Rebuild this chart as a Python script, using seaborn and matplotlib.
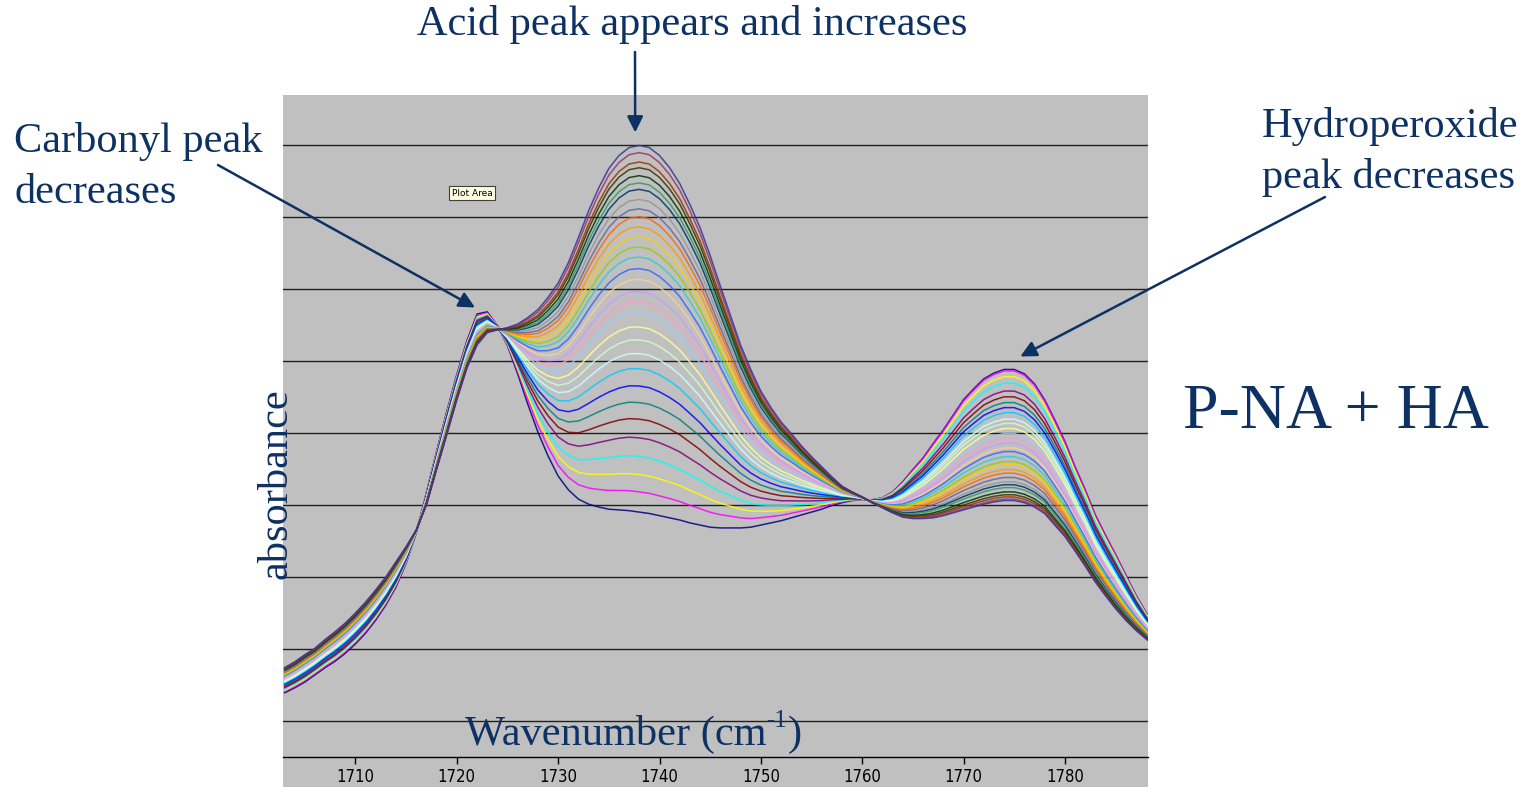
import numpy as np
import pandas as pd
import matplotlib
matplotlib.use("Agg")
import matplotlib.pyplot as plt
import matplotlib.transforms as mtransforms
from matplotlib.patches import Rectangle
from matplotlib import font_manager
import seaborn as sns

# ---------------- data ----------------
wavenumber = np.arange(1703, 1790)  # cm-1, 1 cm-1 steps

# first spectrum of the series (lowest acid peak, highest hydroperoxide peak)
first_spectrum = [
    0.139, 0.146, 0.154, 0.164, 0.174, 0.183, 0.194, 0.207, 0.222, 0.240,
    0.261, 0.286, 0.319, 0.361, 0.417, 0.474, 0.529, 0.581, 0.628, 0.665,
    0.668, 0.649, 0.621, 0.582, 0.540, 0.501, 0.468, 0.440, 0.421, 0.408,
    0.401, 0.397, 0.394, 0.393, 0.392, 0.390, 0.388, 0.385, 0.382, 0.379,
    0.375, 0.372, 0.369, 0.368, 0.368, 0.368, 0.369, 0.372, 0.375, 0.378,
    0.382, 0.386, 0.390, 0.394, 0.399, 0.403, 0.406, 0.407, 0.407, 0.410,
    0.418, 0.432, 0.449, 0.465, 0.485, 0.504, 0.525, 0.546, 0.561, 0.575,
    0.583, 0.588, 0.588, 0.582, 0.568, 0.546, 0.518, 0.488, 0.453, 0.421,
    0.386, 0.358, 0.331, 0.303, 0.275, 0.251, 0.231,
]

# last spectrum of the series (highest acid peak, lowest hydroperoxide peak)
last_spectrum = [
    0.174, 0.182, 0.192, 0.201, 0.213, 0.224, 0.236, 0.250, 0.265, 0.282,
    0.300, 0.321, 0.342, 0.365, 0.400, 0.449, 0.497, 0.546, 0.590, 0.622,
    0.639, 0.643, 0.646, 0.651, 0.660, 0.671, 0.688, 0.708, 0.736, 0.771,
    0.808, 0.840, 0.867, 0.885, 0.896, 0.899, 0.896, 0.885, 0.868, 0.846,
    0.817, 0.785, 0.746, 0.704, 0.663, 0.622, 0.588, 0.558, 0.535, 0.515,
    0.499, 0.482, 0.467, 0.453, 0.439, 0.426, 0.418, 0.411, 0.403, 0.396,
    0.389, 0.383, 0.381, 0.381, 0.382, 0.385, 0.389, 0.393, 0.397, 0.401,
    0.404, 0.406, 0.406, 0.403, 0.397, 0.388, 0.372, 0.356, 0.336, 0.315,
    0.293, 0.274, 0.256, 0.240, 0.226, 0.214, 0.203,
]

# absorbance of every spectrum at the acid peak (1738 cm-1)
acid_peak_1738 = [
    0.390, 0.418, 0.442, 0.467, 0.493, 0.519, 0.542, 0.565, 0.589, 0.610,
    0.629, 0.647, 0.667, 0.682, 0.696, 0.713, 0.728, 0.744, 0.758, 0.772,
    0.786, 0.800, 0.811, 0.824, 0.838, 0.847, 0.857, 0.868, 0.876, 0.889,
    0.899,
]

# absorbance of every spectrum at the hydroperoxide peak (1775 cm-1)
hydroperoxide_peak_1775 = [
    0.588, 0.586, 0.578, 0.569, 0.558, 0.550, 0.542, 0.535, 0.528, 0.519,
    0.513, 0.506, 0.499, 0.493, 0.486, 0.479, 0.474, 0.467, 0.460, 0.456,
    0.449, 0.444, 0.438, 0.432, 0.428, 0.424, 0.418, 0.414, 0.411, 0.408,
    0.406,
]

series_colors = [
    "#000080", "#FF00FF", "#FFFF00", "#00FFFF", "#800080", "#800000",
    "#008080", "#0000FF", "#00CCFF", "#CCFFFF", "#CCFFCC", "#FFFF99",
    "#99CCFF", "#FF99CC", "#CC99FF", "#FFCC99", "#3366FF", "#33CCCC",
    "#99CC00", "#FFCC00", "#FF9900", "#FF6600", "#666699", "#969696",
    "#003366", "#339966", "#003300", "#333300", "#993300", "#993366",
    "#333399",
]

x_ticks = [1710, 1720, 1730, 1740, 1750, 1760, 1770, 1780]
isosbestic_split = 1760.5

# --------------- build long table ---------------
first = np.array(first_spectrum)
last = np.array(last_spectrum)
acid = np.array(acid_peak_1738)
hyd = np.array(hydroperoxide_peak_1775)
frames = []
for k in range(len(acid)):
    fa = (acid[k] - acid[0]) / (acid[-1] - acid[0])
    fh = (hyd[k] - hyd[0]) / (hyd[-1] - hyd[0])
    weight = np.where(wavenumber <= isosbestic_split, fa, fh)
    frames.append(pd.DataFrame({
        "wavenumber": wavenumber,
        "absorbance": first + weight * (last - first),
        "spectrum": f"s{k + 1:02d}",
    }))
df = pd.concat(frames, ignore_index=True)
order = [f"s{k + 1:02d}" for k in range(len(acid))]

# --------------- figure ---------------
sns.set_theme(style="white")
plt.rcParams["font.family"] = ["Liberation Serif", "DejaVu Serif"]
plt.rcParams["mathtext.fontset"] = "custom"
plt.rcParams["mathtext.rm"] = "Liberation Serif"
plt.rcParams["mathtext.default"] = "rm"

# condensed sans for the tick labels (Arial Narrow look)
names = {f.name for f in font_manager.fontManager.ttflist}
if "Liberation Sans Narrow" in names:
    tick_font = dict(family="Liberation Sans Narrow")
else:
    tick_font = dict(family="DejaVu Sans", stretch="condensed")

W, H = 1537, 787
fig = plt.figure(figsize=(W / 100, H / 100), dpi=100)
fig.patch.set_facecolor("white")

L, R, T, B = 283, 1148, 95, 757
ax = fig.add_axes([L / W, 1 - B / H, (R - L) / W, (B - T) / H])
ax.set_facecolor("#C0C0C0")

gray_rect = Rectangle((L / W, 0), (R - L) / W, 1 - T / H, transform=fig.transFigure,
                      facecolor="#C0C0C0", edgecolor="none", zorder=-1)
fig.patches.append(gray_rect)

sns.lineplot(data=df, x="wavenumber", y="absorbance", hue="spectrum",
             hue_order=order, palette=series_colors, estimator=None, sort=False,
             legend=False, linewidth=1.1, alpha=0.85, ax=ax)

ax.set_xlim(1702.85, 1788.2)
ax.set_ylim(0.05, 0.969)
ax.set_yticks(np.arange(0.1, 0.91, 0.1))
ax.tick_params(axis="y", left=False, labelleft=False)
ax.yaxis.grid(True, color="#202020", linewidth=1.0)
ax.xaxis.grid(False)
ax.set_axisbelow(True)
for s in ["top", "right", "left"]:
    ax.spines[s].set_visible(False)
ax.spines["bottom"].set_color("black")
ax.spines["bottom"].set_linewidth(1.0)
ax.set_xticks(x_ticks)
ax.tick_params(axis="x", bottom=True, direction="out", length=5, width=1,
               color="black", labelsize=12, pad=3, labelcolor="black")
for lbl in ax.get_xticklabels():
    lbl.set_fontfamily(tick_font["family"])
    if "stretch" in tick_font:
        lbl.set_fontstretch(tick_font["stretch"])
ax.set_xlabel("")
ax.set_ylabel("")

# clipped partial tick label at the right edge
off = mtransforms.offset_copy(ax.get_xaxis_transform(), fig=fig, y=-8, units="points")
t90 = ax.text(1790, 0, "1790", transform=off, ha="center", va="top",
              fontsize=12, color="black", **tick_font)
t90.set_clip_on(True)
t90.set_clip_path(gray_rect)

navy = "#0E3163"
fs = 30.5

fig.text(692 / W, 1 - 35 / H, "Acid peak appears and increases", ha="center",
         va="baseline", fontsize=fs, color=navy)
fig.text(14 / W, 1 - 152 / H, "Carbonyl peak", ha="left", va="baseline",
         fontsize=fs, color=navy)
fig.text(14 / W, 1 - 203 / H, "decreases", ha="left", va="baseline",
         fontsize=fs, color=navy)
fig.text(1262 / W, 1 - 137 / H, "Hydroperoxide", ha="left", va="baseline",
         fontsize=fs, color=navy)
fig.text(1262 / W, 1 - 188 / H, "peak decreases", ha="left", va="baseline",
         fontsize=fs, color=navy)
fig.text(1183 / W, 1 - 428 / H, "P-NA + HA", ha="left", va="baseline",
         fontsize=46, color=navy)
fig.text(276 / W, 1 - 484 / H, "absorbance", ha="center", va="center",
         rotation=90, fontsize=fs, color=navy)

# x-axis title with a hyphen superscript
xl = fig.text(465 / W, 1 - 745 / H, "Wavenumber (cm", ha="left",
              va="baseline", fontsize=fs, color=navy)
fig.canvas.draw()
bb = xl.get_window_extent()
sup = fig.text(bb.x1 / W, 1 - 727 / H, "-1", ha="left", va="baseline",
               fontsize=18, color=navy)
bb2 = sup.get_window_extent()
fig.text(bb2.x1 / W, 1 - 745 / H, ")", ha="left", va="baseline",
         fontsize=fs, color=navy)

fig.text(472 / W, 1 - 193 / H, "Plot Area", ha="center", va="center",
         fontsize=6.5, family="DejaVu Sans", color="black",
         bbox=dict(boxstyle="square,pad=0.25", facecolor="#FFFFE1",
                   edgecolor="#404040", linewidth=0.8))

arrow_kw = dict(arrowstyle="-|>", color=navy, lw=1.8, mutation_scale=24,
                shrinkA=0, shrinkB=0)
ax.annotate("", xy=(1721.8, 0.674), xycoords="data",
            xytext=(218 / W, 1 - 165 / H), textcoords="figure fraction",
            arrowprops=arrow_kw, annotation_clip=False)
ax.annotate("", xy=(1737.6, 0.917), xycoords="data",
            xytext=(635 / W, 1 - 52 / H), textcoords="figure fraction",
            arrowprops=arrow_kw, annotation_clip=False)
ax.annotate("", xy=(1775.6, 0.606), xycoords="data",
            xytext=(1325 / W, 1 - 197 / H), textcoords="figure fraction",
            arrowprops=arrow_kw, annotation_clip=False)

fig.savefig("out.png", dpi=100, facecolor="white")
